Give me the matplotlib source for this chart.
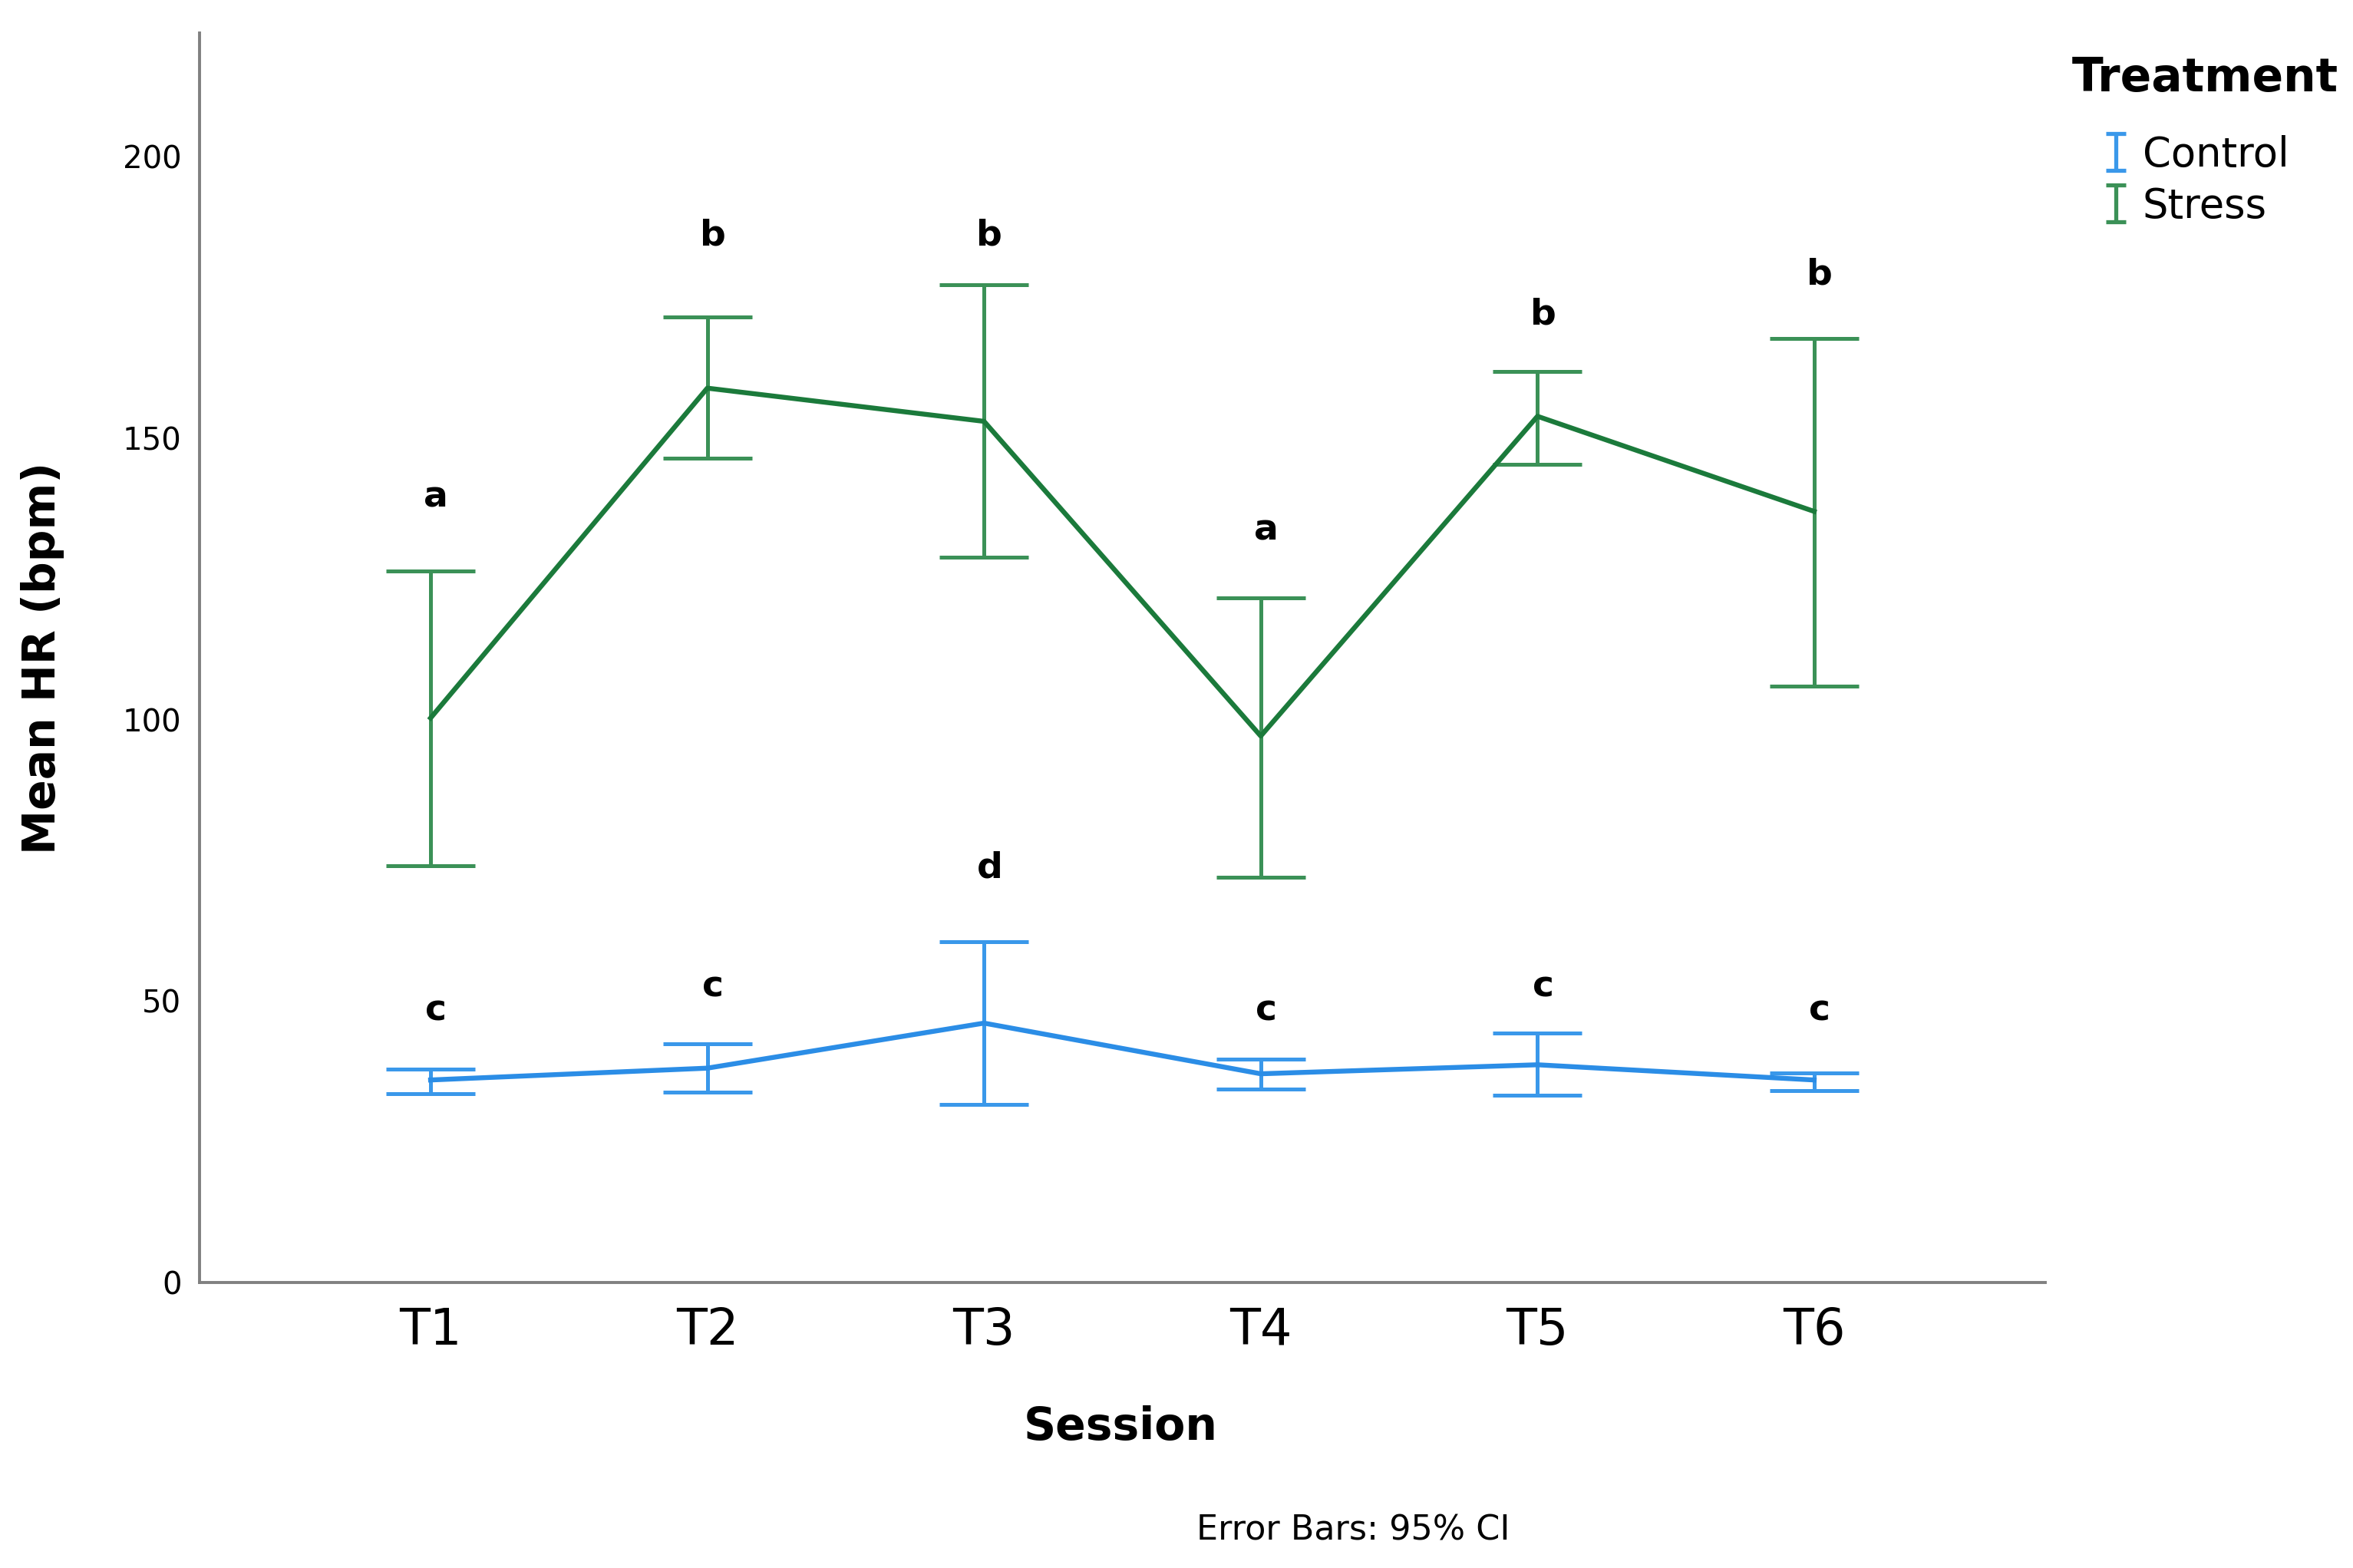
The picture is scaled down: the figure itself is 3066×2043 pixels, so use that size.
import matplotlib
matplotlib.use("Agg")
import matplotlib.pyplot as plt
from matplotlib.lines import Line2D
from matplotlib.path import Path

plt.rcParams['font.family'] = ['DejaVu Sans']

sessions = ['T1', 'T2', 'T3', 'T4', 'T5', 'T6']

# Stress group: mean and 95% CI
stress_mean = [100.3, 158.9, 153.0, 97.1, 153.9, 137.0]
stress_lo = [74.1, 146.4, 128.8, 72.0, 145.3, 105.9]
stress_hi = [126.4, 171.5, 177.3, 121.6, 161.9, 167.7]
stress_letters = ['a', 'b', 'b', 'a', 'b', 'b']
stress_letter_y = [139.5, 186.0, 186.0, 133.6, 172.0, 179.0]

# Control group
control_mean = [36.0, 38.1, 46.1, 37.1, 38.7, 36.0]
control_lo = [33.6, 33.9, 31.7, 34.4, 33.3, 34.1]
control_hi = [37.9, 42.4, 60.5, 39.7, 44.3, 37.3]
control_letters = ['c', 'c', 'd', 'c', 'c', 'c']
control_letter_y = [48.3, 52.5, 73.6, 48.3, 52.5, 48.3]

green_line = '#1b7a3b'
green_err = '#3b9157'
blue_line = '#2b8de6'
blue_err = '#3a98ea'

x = list(range(1, len(sessions) + 1))

fig = plt.figure(figsize=(30.66, 20.43), dpi=100)
ax = fig.add_axes([0.0848, 0.182, 0.7844, 0.797])

groups = [
    (control_mean, control_lo, control_hi, blue_line, blue_err),
    (stress_mean, stress_lo, stress_hi, green_line, green_err),
]
for mean, lo, hi, lc, ec in groups:
    yerr = [[m - l for m, l in zip(mean, lo)], [h - m for m, h in zip(mean, hi)]]
    ax.errorbar(x, mean, yerr=yerr, fmt='none', ecolor=ec, elinewidth=3.6,
                capsize=42, capthick=3.6, zorder=2)
    ax.plot(x, mean, color=lc, lw=4.6, zorder=3)

for xi, t, yy in zip(x, stress_letters, stress_letter_y):
    ax.text(xi + 0.02, yy, t, ha='center', va='center', fontsize=34, fontweight='bold')
for xi, t, yy in zip(x, control_letters, control_letter_y):
    ax.text(xi + 0.02, yy, t, ha='center', va='center', fontsize=34, fontweight='bold')

ax.set_xlim(0.165, 6.835)
ax.set_ylim(0, 222)
ax.set_xticks(x)
ax.set_xticklabels(sessions, fontsize=47)
ax.set_yticks([0, 50, 100, 150, 200])
ax.tick_params(axis='y', length=0, pad=17, labelsize=29)
ax.tick_params(axis='x', length=0, pad=22)
for s in ['top', 'right']:
    ax.spines[s].set_visible(False)
for s in ['left', 'bottom']:
    ax.spines[s].set_color('#808080')
    ax.spines[s].set_linewidth(2.8)

ax.set_ylabel('Mean HR (bpm)', fontsize=42, fontweight='bold')
ax.yaxis.set_label_coords(-0.073, 0.5)
ax.set_xlabel('Session', fontsize=42, fontweight='bold', va='top')
ax.xaxis.set_label_coords(0.499, -0.098)

fig.text(0.575, 0.024, 'Error Bars: 95% CI', ha='center', va='center', fontsize=32)

# legend with I-beam handles
ibeam = Path([(-0.55, -1), (0.55, -1), (0, -1), (0, 1), (-0.55, 1), (0.55, 1)],
             [Path.MOVETO, Path.LINETO, Path.MOVETO, Path.LINETO, Path.MOVETO, Path.LINETO])
handles = [
    Line2D([], [], ls='none', marker=ibeam, markersize=34, mfc='none', mec=blue_err, mew=3.8),
    Line2D([], [], ls='none', marker=ibeam, markersize=34, mfc='none', mec=green_err, mew=3.8),
]
fig.text(0.8807, 0.950, 'Treatment', ha='left', va='center', fontsize=43, fontweight='bold')
fig.legend(handles, ['Control', 'Stress'], loc='upper left', bbox_to_anchor=(0.895, 0.914),
           frameon=False, fontsize=38, handlelength=0.5, handletextpad=0.4,
           labelspacing=0.28, borderpad=0, borderaxespad=0, numpoints=1)

fig.savefig('out.png', dpi=100)
